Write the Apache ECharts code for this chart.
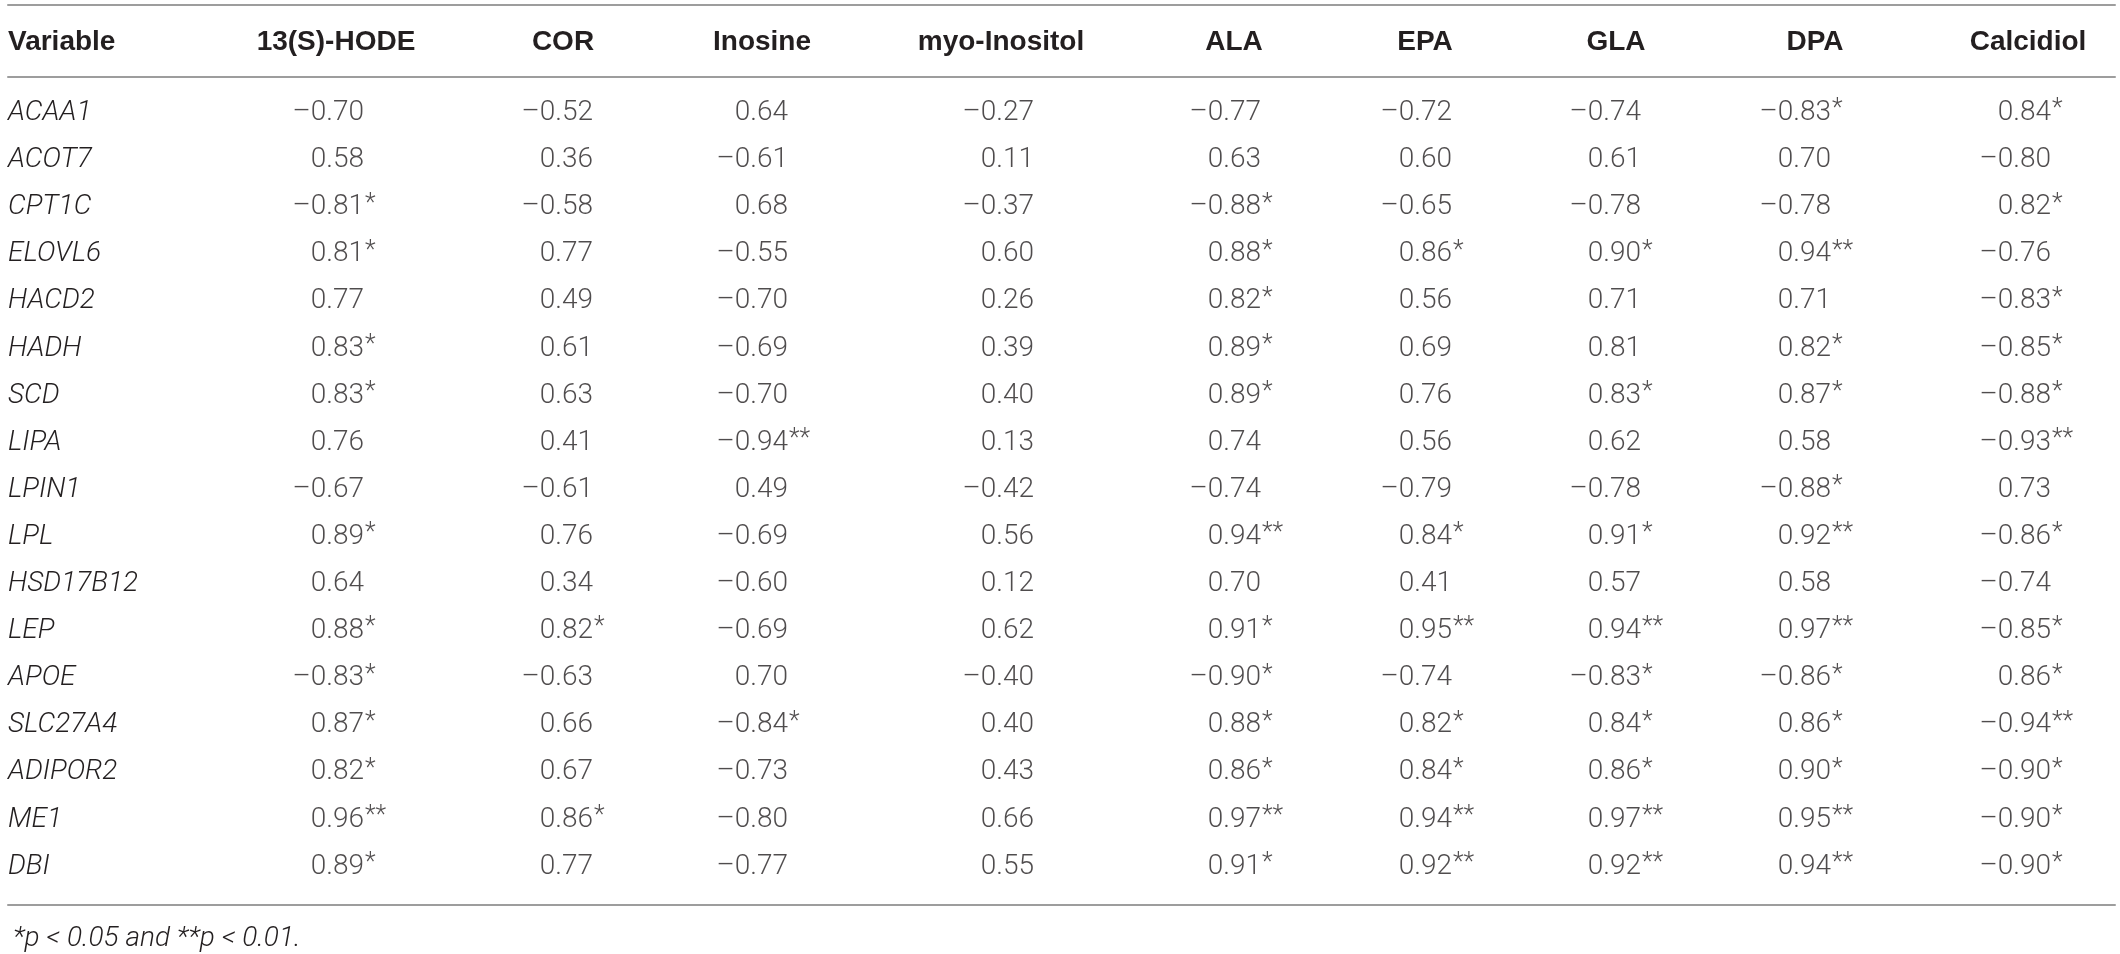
<!DOCTYPE html>
<html>
<head>
<meta charset="utf-8">
<script src="https://cdn.jsdelivr.net/npm/echarts@6/dist/echarts.min.js"></script>
<style>
  html, body { margin: 0; padding: 0; background: #fff; }
  #main { width: 2120px; height: 954px; }
</style>
</head>
<body>
<div id="main"></div>
<script>
// table content
var genes = ['ACAA1', 'ACOT7', 'CPT1C', 'ELOVL6', 'HACD2', 'HADH', 'SCD', 'LIPA', 'LPIN1',
  'LPL', 'HSD17B12', 'LEP', 'APOE', 'SLC27A4', 'ADIPOR2', 'ME1', 'DBI'];
var headers = ['13(S)-HODE', 'COR', 'Inosine', 'myo-Inositol', 'ALA', 'EPA', 'GLA', 'DPA', 'Calcidiol'];

var hode = [-0.70, 0.58, -0.81, 0.81, 0.77, 0.83, 0.83, 0.76, -0.67, 0.89, 0.64, 0.88, -0.83, 0.87, 0.82, 0.96, 0.89];
var hodeSig = [0, 0, 1, 1, 0, 1, 1, 0, 0, 1, 0, 1, 1, 1, 1, 2, 1];
var cor = [-0.52, 0.36, -0.58, 0.77, 0.49, 0.61, 0.63, 0.41, -0.61, 0.76, 0.34, 0.82, -0.63, 0.66, 0.67, 0.86, 0.77];
var corSig = [0, 0, 0, 0, 0, 0, 0, 0, 0, 0, 0, 1, 0, 0, 0, 1, 0];
var inosine = [0.64, -0.61, 0.68, -0.55, -0.70, -0.69, -0.70, -0.94, 0.49, -0.69, -0.60, -0.69, 0.70, -0.84, -0.73, -0.80, -0.77];
var inosineSig = [0, 0, 0, 0, 0, 0, 0, 2, 0, 0, 0, 0, 0, 1, 0, 0, 0];
var myoInositol = [-0.27, 0.11, -0.37, 0.60, 0.26, 0.39, 0.40, 0.13, -0.42, 0.56, 0.12, 0.62, -0.40, 0.40, 0.43, 0.66, 0.55];
var myoInositolSig = [0, 0, 0, 0, 0, 0, 0, 0, 0, 0, 0, 0, 0, 0, 0, 0, 0];
var ala = [-0.77, 0.63, -0.88, 0.88, 0.82, 0.89, 0.89, 0.74, -0.74, 0.94, 0.70, 0.91, -0.90, 0.88, 0.86, 0.97, 0.91];
var alaSig = [0, 0, 1, 1, 1, 1, 1, 0, 0, 2, 0, 1, 1, 1, 1, 2, 1];
var epa = [-0.72, 0.60, -0.65, 0.86, 0.56, 0.69, 0.76, 0.56, -0.79, 0.84, 0.41, 0.95, -0.74, 0.82, 0.84, 0.94, 0.92];
var epaSig = [0, 0, 0, 1, 0, 0, 0, 0, 0, 1, 0, 2, 0, 1, 1, 2, 2];
var gla = [-0.74, 0.61, -0.78, 0.90, 0.71, 0.81, 0.83, 0.62, -0.78, 0.91, 0.57, 0.94, -0.83, 0.84, 0.86, 0.97, 0.92];
var glaSig = [0, 0, 0, 1, 0, 0, 1, 0, 0, 1, 0, 2, 1, 1, 1, 2, 2];
var dpa = [-0.83, 0.70, -0.78, 0.94, 0.71, 0.82, 0.87, 0.58, -0.88, 0.92, 0.58, 0.97, -0.86, 0.86, 0.90, 0.95, 0.94];
var dpaSig = [1, 0, 0, 2, 0, 1, 1, 0, 1, 2, 0, 2, 1, 1, 1, 2, 2];
var calcidiol = [0.84, -0.80, 0.82, -0.76, -0.83, -0.85, -0.88, -0.93, 0.73, -0.86, -0.74, -0.85, 0.86, -0.94, -0.90, -0.90, -0.90];
var calcidiolSig = [1, 0, 1, 0, 1, 1, 1, 2, 0, 1, 0, 1, 1, 2, 1, 1, 1];

var footnote = '*p < 0.05 and **p < 0.01.';

var columns = [hode, cor, inosine, myoInositol, ala, epa, gla, dpa, calcidiol];
var columnSig = [hodeSig, corSig, inosineSig, myoInositolSig, alaSig, epaSig, glaSig, dpaSig, calcidiolSig];

// layout (pixels)
var colCenter = [336, 563, 762, 1001, 1234, 1425, 1616, 1815, 2028];
var numEdge = [28, 30, 26, 33, 27, 27, 25, 16, 23];   // right edge of number, from column centre
var colWidth = 150;
var rowTop = 89.5;
var rowStep = 47.1;
var headerY = 42;

var textColor = '#231f20';
var ruleColor = '#9d9d9d';
var bodyFont = 'Roboto';
var headFont = 'Liberation Sans';
var fontSize = 28;

var myChart = echarts.init(document.getElementById('main'));

var grid = [], xAxis = [], yAxis = [], series = [];
var tableHeight = rowStep * genes.length;

// gene name column
grid.push({ left: 8, top: rowTop, width: 120, height: tableHeight });
xAxis.push({ type: 'value', gridIndex: 0, min: 0, max: 1, show: false });
yAxis.push({
  type: 'category', gridIndex: 0, data: genes, inverse: true,
  name: 'Variable', nameLocation: 'start', nameGap: rowTop - headerY,
  nameTextStyle: {
    fontFamily: headFont, fontWeight: 'bold', fontSize: fontSize, color: textColor,
    align: 'left', verticalAlign: 'middle'
  },
  axisLine: { show: false }, axisTick: { show: false },
  axisLabel: {
    inside: true, margin: 0, fontFamily: bodyFont, fontWeight: 300,
    fontStyle: 'italic', fontSize: fontSize, color: textColor
  }
});

function fmt(v) {
  return v.toFixed(2).replace('-', '\u2013');
}

// value columns
columns.forEach(function (vals, j) {
  var g = j + 1;
  grid.push({ left: colCenter[j] - colWidth / 2, top: rowTop, width: colWidth, height: tableHeight });
  xAxis.push({
    type: 'category', gridIndex: g, data: [headers[j]], position: 'top',
    axisLine: { show: false }, axisTick: { show: false },
    axisLabel: {
      margin: rowTop - headerY, verticalAlign: 'middle',
      fontFamily: headFont, fontWeight: 'bold', fontSize: fontSize, color: textColor
    }
  });
  yAxis.push({ type: 'category', gridIndex: g, data: genes, inverse: true, show: false });

  var data = vals.map(function (v, i) {
    return [headers[j], genes[i], v, columnSig[j][i]];
  });
  series.push({
    type: 'scatter', xAxisIndex: g, yAxisIndex: g, data: data,
    symbol: 'rect', symbolSize: 1, itemStyle: { color: 'transparent' },
    silent: true,
    label: {
      show: true, position: 'inside', align: 'right', verticalAlign: 'middle',
      offset: [numEdge[j], 0],
      fontFamily: bodyFont, fontWeight: 300, fontSize: fontSize, color: textColor,
      formatter: function (p) { return fmt(p.value[2]); }
    }
  });
  series.push({
    type: 'scatter', xAxisIndex: g, yAxisIndex: g, data: data,
    symbol: 'rect', symbolSize: 1, itemStyle: { color: 'transparent' },
    silent: true,
    label: {
      show: true, position: 'inside', align: 'left', verticalAlign: 'middle',
      offset: [numEdge[j] + 1, -3],
      fontFamily: bodyFont, fontWeight: 300, fontSize: 25, color: textColor,
      formatter: function (p) { return p.value[3] ? new Array(p.value[3] + 1).join('*') : ''; }
    }
  });
});

// horizontal rules: top and bottom of table, and under the header
var ruleLine = { show: true, onZero: false, lineStyle: { color: ruleColor, width: 2 } };
var gOuter = grid.length;
grid.push({ left: 8, right: 5, top: 5, bottom: 49 });
xAxis.push({ type: 'value', gridIndex: gOuter, position: 'top', min: 0, max: 1,
  axisLine: ruleLine, axisTick: { show: false }, axisLabel: { show: false }, splitLine: { show: false } });
xAxis.push({ type: 'value', gridIndex: gOuter, position: 'bottom', min: 0, max: 1,
  axisLine: ruleLine, axisTick: { show: false }, axisLabel: { show: false }, splitLine: { show: false } });
yAxis.push({ type: 'value', gridIndex: gOuter, show: false, min: 0, max: 1 });

var gHead = grid.length;
grid.push({ left: 8, right: 5, top: 77, bottom: 49 });
xAxis.push({ type: 'value', gridIndex: gHead, position: 'top', min: 0, max: 1,
  axisLine: ruleLine, axisTick: { show: false }, axisLabel: { show: false }, splitLine: { show: false } });
yAxis.push({ type: 'value', gridIndex: gHead, show: false, min: 0, max: 1 });

var option = {
  backgroundColor: '#fff',
  animation: false,
  title: {
    text: footnote, left: 8, top: 920,
    textStyle: { fontFamily: bodyFont, fontWeight: 300, fontStyle: 'italic', fontSize: fontSize, color: textColor }
  },
  grid: grid,
  xAxis: xAxis,
  yAxis: yAxis,
  series: series
};
myChart.setOption(option);
</script>
</body>
</html>
